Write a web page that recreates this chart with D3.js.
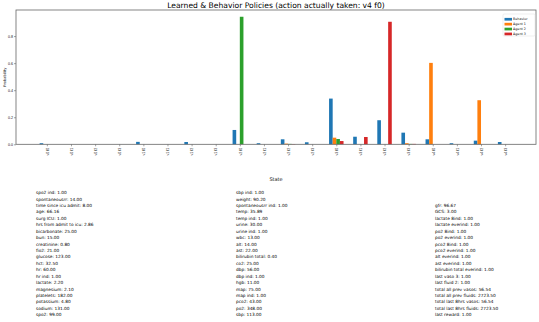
<!DOCTYPE html>
<html>
<head>
<meta charset="utf-8">
<script src="https://cdn.jsdelivr.net/npm/d3@7"></script>
<style>
  body { margin: 0; background: #fff; }
  svg { display: block; font-family: "DejaVu Sans", sans-serif; }
</style>
</head>
<body>
<div id="chart"></div>
<script>
// actions: vaso level x fluid level
var actions = ["v0 f0", "v0 f1", "v0 f2", "v0 f3", "v1 f0", "v1 f1", "v1 f2", "v1 f3",
    "v2 f0", "v2 f1", "v2 f2", "v2 f3", "v3 f0", "v3 f1", "v3 f2", "v3 f3",
    "v4 f0", "v4 f1", "v4 f2", "v4 f3"];
var seriesNames = ["Behavior", "Agent 1", "Agent 2", "Agent 3"];
var seriesColors = ["#1f77b4", "#ff7f0e", "#2ca02c", "#d62728"];

var behavior = [0.008, 0, 0, 0, 0.018, 0, 0.017, 0, 0.106, 0.008, 0.037, 0.015, 0.338, 0.056, 0.178, 0.086, 0.037, 0.008, 0.027, 0.017];
var agent1   = [0, 0, 0, 0, 0, 0, 0, 0, 0, 0, 0.005, 0, 0.049, 0, 0, 0.008, 0.602, 0, 0.326, 0];
var agent2   = [0, 0, 0, 0, 0, 0, 0, 0, 0.943, 0, 0.003, 0, 0.039, 0, 0, 0.003, 0, 0, 0, 0];
var agent3   = [0, 0, 0, 0, 0, 0, 0, 0, 0, 0, 0.002, 0, 0.024, 0.054, 0.906, 0.003, 0, 0, 0, 0];
var yTicks = [0, 0.2, 0.4, 0.6, 0.8];

var stateLeft = ["spo2 ind: 1.00", "spontaneousrr: 14.00", "time since icu admit: 8.00", "age: 66.16",
    "surg ICU: 1.00", "hrs from admit to icu: 2.86", "bicarbonate: 25.00", "bun: 15.00",
    "creatinine: 0.80", "fio2: 21.00", "glucose: 123.00", "hct: 32.50", "hr: 60.00", "hr ind: 1.00",
    "lactate: 2.20", "magnesium: 2.10", "platelets: 182.00", "potassium: 4.80", "sodium: 131.00",
    "spo2: 99.00"];
var stateMid = ["sbp ind: 1.00", "weight: 90.20", "spontaneousrr ind: 1.00", "temp: 35.89",
    "temp ind: 1.00", "urine: 30.00", "urine ind: 1.00", "wbc: 13.00", "alt: 14.00", "ast: 22.00",
    "bilirubin total: 0.40", "co2: 25.00", "dbp: 56.00", "dbp ind: 1.00", "hgb: 11.00", "map: 75.00",
    "map ind: 1.00", "pco2: 43.00", "po2: 348.00", "sbp: 113.00"];
var stateRight = ["gfr: 96.67", "GCS: 3.00", "lactate 8ind: 1.00", "lactate everind: 1.00",
    "po2 8ind: 1.00", "po2 everind: 1.00", "pco2 8ind: 1.00", "pco2 everind: 1.00",
    "alt everind: 1.00", "ast everind: 1.00", "bilirubin total everind: 1.00", "last vaso 3: 1.00",
    "last fluid 2: 1.00", "total all prev vasos: 56.54", "total all prev fluids: 2723.50",
    "total last 8hrs vasos: 56.54", "total last 8hrs fluids: 2723.50", "last reward: 1.00"];

var W = 539, H = 322;
var plotL = 16, plotR = 536, plotT = 10, plotB = 144.3;
var barW = 0.15;

var svg = d3.select("#chart").append("svg").attr("width", W).attr("height", H);

var x = d3.scaleLinear().domain([-1.28, 20.28]).range([plotL, plotR]);
var y = d3.scaleLinear().domain([0, 0.993]).range([plotB, plotT]);

var allSeries = [behavior, agent1, agent2, agent3];

// bars
allSeries.forEach(function (vals, s) {
    svg.append("g").selectAll("rect")
        .data(vals)
        .enter()
        .append("rect")
        .attr("x", function (d, i) { return x(i + (s - 2) * barW); })
        .attr("width", x(barW) - x(0))
        .attr("y", function (d) { return y(d); })
        .attr("height", function (d) { return plotB - y(d); })
        .style("fill", seriesColors[s]);
});

// axes
var xAxis = d3.axisBottom(x)
    .tickValues(d3.range(actions.length))
    .tickFormat(function (i) { return actions[i]; })
    .tickSize(2).tickSizeOuter(0);
var gx = svg.append("g").attr("transform", "translate(0," + plotB + ")").call(xAxis);
gx.select(".domain").remove();
gx.selectAll(".tick line").attr("stroke", "#444").attr("stroke-width", 0.5);
gx.selectAll(".tick text")
    .attr("transform", "rotate(-90)")
    .attr("text-anchor", "end")
    .attr("x", -3.5).attr("y", 0).attr("dy", "0.35em")
    .style("font-size", "3.6px").attr("fill", "#111");

var yAxis = d3.axisLeft(y).tickValues(yTicks).tickFormat(d3.format(".1f")).tickSize(2).tickSizeOuter(0);
var gy = svg.append("g").attr("transform", "translate(" + plotL + ",0)").call(yAxis);
gy.select(".domain").remove();
gy.selectAll(".tick line").attr("stroke", "#444").attr("stroke-width", 0.5);
gy.selectAll(".tick text").attr("x", -3).style("font-size", "3.6px").attr("fill", "#111");

// frame
svg.append("rect")
    .attr("x", plotL).attr("y", plotT)
    .attr("width", plotR - plotL).attr("height", plotB - plotT)
    .attr("fill", "none").attr("stroke", "#666").attr("stroke-width", 0.8);

// title and labels
svg.append("text").attr("x", (plotL + plotR) / 2).attr("y", 7.6)
    .attr("text-anchor", "middle").style("font-size", "7.6px").attr("fill", "#000")
    .text("Learned & Behavior Policies (action actually taken: v4 f0)");
svg.append("text").attr("transform", "translate(5.5," + ((plotT + plotB) / 2) + ") rotate(-90)")
    .attr("text-anchor", "middle").style("font-size", "3.6px").attr("fill", "#111")
    .text("Probability");
svg.append("text").attr("x", (plotL + plotR) / 2).attr("y", 181)
    .attr("text-anchor", "middle").style("font-size", "5px").attr("fill", "#111")
    .text("State");

// legend
var lg = svg.append("g").attr("transform", "translate(503,14)");
lg.append("rect").attr("width", 32).attr("height", 22)
    .attr("fill", "#fff").attr("stroke", "#ddd").attr("stroke-width", 0.5).attr("rx", 1);
seriesNames.forEach(function (name, i) {
    var yy = 5.3 + i * 4.9;
    lg.append("rect").attr("x", 1.5).attr("y", yy - 1.4).attr("width", 7.5).attr("height", 2.7)
        .style("fill", seriesColors[i]);
    lg.append("text").attr("x", 10).attr("y", yy).attr("dy", "0.35em")
        .style("font-size", "3.3px").attr("fill", "#111").text(name);
});

// state text columns
var lineH = 6.42, lastY = 314.7;
function stateColumn(lines, x0) {
    svg.append("g").selectAll("text")
        .data(lines)
        .enter()
        .append("text")
        .attr("x", x0)
        .attr("y", function (d, i) { return lastY - (lines.length - 1 - i) * lineH; })
        .attr("dy", "0.35em")
        .style("font-size", "4.3px").attr("fill", "#000")
        .text(function (d) { return d; });
}
stateColumn(stateLeft, 36);
stateColumn(stateMid, 236);
stateColumn(stateRight, 435);
</script>
</body>
</html>
